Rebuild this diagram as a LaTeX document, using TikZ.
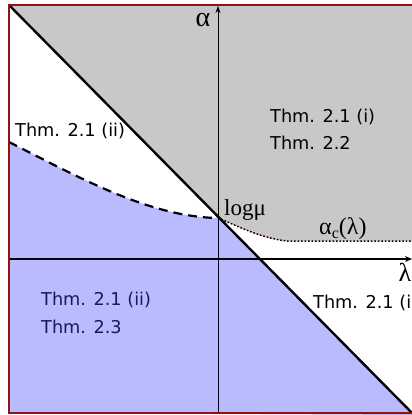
\documentclass[tikz,border=0pt]{standalone}
\usepackage{fontspec}
\setmainfont{Liberation Serif}
\newfontfamily\thmfont{DejaVu Sans}
\usepackage{tikz}
\usetikzlibrary{arrows.meta}
\usepackage{xcolor}
\definecolor{regiongray}{RGB}{200,200,200}
\definecolor{regionblue}{RGB}{186,186,255}
\definecolor{framered}{RGB}{140,20,20}
\definecolor{thmnavy}{RGB}{25,25,85}

\begin{document}
\begin{tikzpicture}[x=1bp,y=-1bp,
  thm/.style={font=\thmfont\fontsize{17.7bp}{20bp}\selectfont,anchor=west,inner sep=0pt},
  greek/.style={font=\fontsize{23bp}{26bp}\selectfont,inner sep=0pt}]
\useasboundingbox (0,0) rectangle (412,415);
\clip (0,0) rectangle (412,415);
\coordinate (corner) at (9,5);
\coordinate (far) at (414,415);
\coordinate (logmu) at (218,218);
\coordinate (kink) at (287,241);
\coordinate (xleft) at (9,259);
\coordinate (xright) at (412,259);
\coordinate (ybot) at (218,413);
\coordinate (ytop) at (218,6);
\fill[regiongray] (corner) -- (412,5) -- (412,241) -- (kink)
  .. controls (260,238) and (238,226) .. (logmu) -- cycle;
\fill[regionblue] (9,142) .. controls (80,178) and (150,217) .. (logmu)
  -- (far) -- (9,413) -- cycle;
\draw[line width=2.2pt,dash pattern=on 9pt off 6pt] (9,142)
  .. controls (80,178) and (150,217) .. (logmu);
\draw[red!60,line width=0.4pt] (logmu) .. controls (238,226) and (260,238) .. (kink) -- (412,241);
\draw[line width=1.5pt,dotted] (logmu) .. controls (238,226) and (260,238) .. (kink) -- (412,241);
% axes
\draw[line width=1.5pt,-{Stealth[length=7pt,width=6pt]}] (xleft) -- (xright);
\draw[line width=0.6pt,-{Stealth[length=7pt,width=5pt]}] (ybot) -- (ytop);
\draw[line width=2.4pt] (corner) -- (far);
\draw[framered,line width=1.6pt] (420,5) -- (corner) -- (9,413) -- (420,413);
% labels
\node[greek,font=\fontsize{28bp}{30bp}\selectfont] (lblalpha) at (203,20) {α};
\node[greek,font=\fontsize{26bp}{28bp}\selectfont] (lbllambda) at (405,272) {λ};
\node[greek,anchor=base west] (lbllogmu) at (224,215) {logμ};
\node[greek,anchor=base west,font=\fontsize{24bp}{26bp}\selectfont] (lblalphac) at (319,234) {α\raisebox{-4bp}{\fontsize{16bp}{16bp}\selectfont c}(λ)};
\node[thm] (thmTL) at (15,131) {Thm. 2.1 (ii)};
\node[thm] (thmTRa) at (270,117) {Thm. 2.1 (i)};
\node[thm] (thmTRb) at (270,143) {Thm. 2.2};
\node[thm,text=thmnavy] (thmBLa) at (41,300) {Thm. 2.1 (ii)};
\node[thm,text=thmnavy] (thmBLb) at (41,327) {Thm. 2.3};
\node[thm] (thmR) at (313,303) {Thm. 2.1 (i)};
\end{tikzpicture}
\end{document}
